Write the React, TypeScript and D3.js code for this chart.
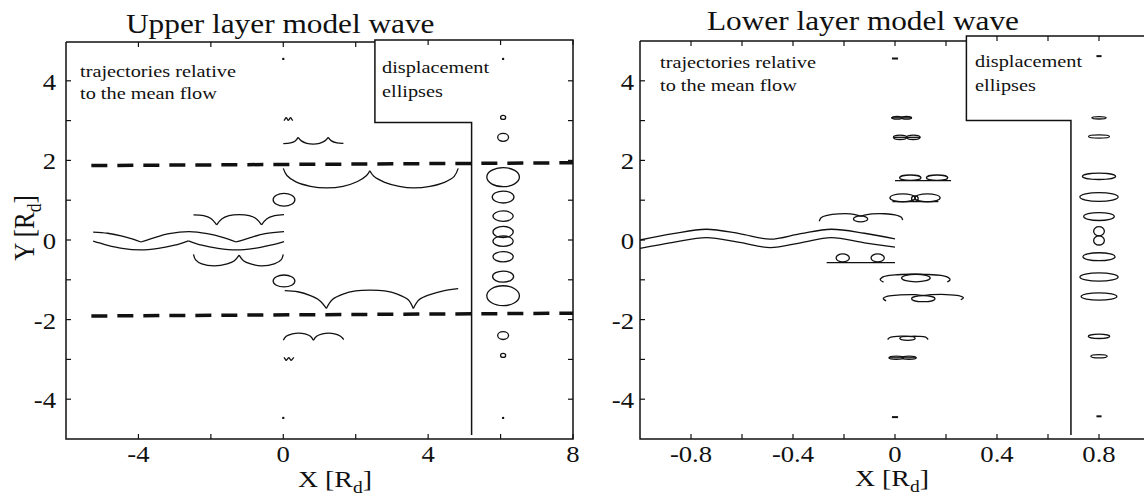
import React from "react";
import * as d3 from "d3";

type Pt = [number, number];

// ================= axes =================
const upperXTicks = [-4, -2, 0, 2, 4, 6, 8];
const upperXLabels = [-4, 0, 4, 8];
const lowerXTicks = [-0.8, -0.6, -0.4, -0.2, 0, 0.2, 0.4, 0.6, 0.8];
const lowerXLabels = [-0.8, -0.4, 0, 0.4, 0.8];
const yTicks = [-4, -3, -2, -1, 0, 1, 2, 3, 4];
const yLabels = [-4, -2, 0, 2, 4];

const titles = ["Upper layer model wave", "Lower layer model wave"];
const noteTraj = ["trajectories relative", "to the mean flow"];
const noteDisp = ["displacement", "ellipses"];

// ================= upper layer (X in Rd, Y in Rd) =================
// each trajectory: list of smooth segments joined at cusps
const upperWaveA: Pt[][] = [
  [[-5.25, 0.2], [-4.85, 0.17], [-4.45, 0.1], [-4.15, 0.02], [-3.93, -0.05]],
  [[-3.93, -0.05], [-3.6, 0.05], [-3.15, 0.16], [-2.6, 0.21], [-2.1, 0.16], [-1.65, 0.06], [-1.3, -0.05]],
  [[-1.3, -0.05], [-0.95, 0.05], [-0.5, 0.16], [0.02, 0.21]],
];
const upperWaveB: Pt[][] = [
  [[-5.25, -0.03], [-4.9, -0.12], [-4.45, -0.21], [-3.95, -0.25], [-3.45, -0.21], [-3.0, -0.13], [-2.62, -0.02]],
  [[-2.62, -0.02], [-2.25, -0.13], [-1.8, -0.21], [-1.3, -0.25], [-0.8, -0.21], [-0.35, -0.13], [0.02, -0.04]],
];
const upperArchP05: Pt[][] = [
  [[-2.48, 0.63], [-2.2, 0.61], [-2.0, 0.54], [-1.84, 0.38]],
  [[-1.84, 0.38], [-1.7, 0.53], [-1.5, 0.61], [-1.22, 0.64], [-0.94, 0.61], [-0.74, 0.53], [-0.6, 0.38]],
  [[-0.6, 0.38], [-0.46, 0.53], [-0.24, 0.61], [0.02, 0.64]],
];
const upperArchM05: Pt[][] = [
  [[-2.48, -0.36], [-2.42, -0.5], [-2.25, -0.6], [-1.9, -0.65], [-1.55, -0.6], [-1.35, -0.52], [-1.22, -0.38]],
  [[-1.22, -0.38], [-1.1, -0.52], [-0.9, -0.6], [-0.6, -0.65], [-0.25, -0.6], [-0.06, -0.5], [0.0, -0.36]],
];
const upperArchP16: Pt[][] = [
  [[0.0, 1.8], [0.1, 1.62], [0.35, 1.46], [0.75, 1.35], [1.19, 1.31], [1.65, 1.35], [2.05, 1.47], [2.3, 1.62], [2.39, 1.74]],
  [[2.39, 1.74], [2.5, 1.6], [2.8, 1.45], [3.2, 1.35], [3.6, 1.31], [4.05, 1.35], [4.45, 1.45], [4.72, 1.6], [4.83, 1.8]],
];
const upperArchM15: Pt[][] = [
  [[0.04, -1.27], [0.4, -1.3], [0.75, -1.4], [1.0, -1.52], [1.19, -1.72]],
  [[1.19, -1.72], [1.35, -1.5], [1.65, -1.36], [2.0, -1.28], [2.39, -1.26], [2.8, -1.28], [3.15, -1.36], [3.45, -1.5], [3.59, -1.72]],
  [[3.59, -1.72], [3.75, -1.5], [4.05, -1.37], [4.45, -1.27], [4.83, -1.22]],
];
const upperArchP25: Pt[][] = [
  [[0.0, 2.42], [0.2, 2.44], [0.33, 2.49], [0.41, 2.58]],
  [[0.41, 2.58], [0.5, 2.49], [0.65, 2.43], [0.83, 2.41], [1.0, 2.43], [1.15, 2.49], [1.24, 2.58]],
  [[1.24, 2.58], [1.33, 2.49], [1.48, 2.44], [1.66, 2.43]],
];
const upperArchM25: Pt[][] = [
  [[0.0, -2.52], [0.08, -2.42], [0.25, -2.36], [0.42, -2.34], [0.6, -2.36], [0.75, -2.42], [0.83, -2.52]],
  [[0.83, -2.52], [0.92, -2.42], [1.08, -2.36], [1.25, -2.34], [1.42, -2.36], [1.58, -2.42], [1.67, -2.5]],
];
const upperTinyP3: Pt[][] = [
  [[0.02, 3.0], [0.08, 3.08]], [[0.08, 3.08], [0.14, 3.0]], [[0.14, 3.0], [0.2, 3.08]], [[0.2, 3.08], [0.26, 3.0]],
];
const upperTinyM3: Pt[][] = [
  [[0.02, -2.95], [0.08, -3.03]], [[0.08, -3.03], [0.15, -2.95]], [[0.15, -2.95], [0.22, -3.03]], [[0.22, -3.03], [0.29, -2.95]],
];
const upperTrajectories: Pt[][][] = [
  upperWaveA, upperWaveB, upperArchP05, upperArchM05, upperArchP16,
  upperArchM15, upperArchP25, upperArchM25, upperTinyP3, upperTinyM3,
];
// closed orbits at X=0 : [cx, cy, rx, ry]
const upperOrbits: number[][] = [
  [0.02, 1.01, 0.3, 0.16],
  [0.02, -1.03, 0.3, 0.15],
];
const upperDots: Pt[] = [[0, 4.55], [0, -4.47], [6.07, 4.55], [6.07, -4.47]];
// displacement ellipses column: [Y, rx, ry]
const upperDispX = 6.07;
const upperDisp: number[][] = [
  [3.08, 0.07, 0.05],
  [2.58, 0.15, 0.1],
  [1.58, 0.45, 0.24],
  [1.08, 0.3, 0.15],
  [0.6, 0.28, 0.13],
  [0.2, 0.28, 0.14],
  [-0.03, 0.28, 0.13],
  [-0.42, 0.28, 0.13],
  [-0.92, 0.29, 0.14],
  [-1.4, 0.45, 0.25],
  [-2.4, 0.15, 0.1],
  [-2.9, 0.07, 0.05],
];
const upperDashed: Pt[][] = [
  [[-5.3, 1.87], [8, 1.94]],
  [[-5.3, -1.91], [8, -1.84]],
];

// ================= lower layer =================
const lowerWaveTop: Pt[] = [
  [-1.0, 0.0], [-0.87, 0.16], [-0.74, 0.27], [-0.61, 0.16], [-0.49, 0.02],
  [-0.37, 0.16], [-0.25, 0.27], [-0.12, 0.17], [0.0, 0.03],
];
const lowerWaveBot: Pt[] = [
  [-1.0, -0.21], [-0.87, -0.06], [-0.74, 0.06], [-0.61, -0.06], [-0.49, -0.19],
  [-0.37, -0.07], [-0.25, 0.06], [-0.12, -0.07], [0.0, -0.18],
];
const lowerArches: Pt[][] = [
  [[-0.297, 0.47], [-0.29, 0.56], [-0.265, 0.62], [-0.22, 0.655], [-0.175, 0.655], [-0.145, 0.62], [-0.135, 0.6],
   [-0.12, 0.625], [-0.09, 0.655], [-0.04, 0.66], [0.0, 0.63], [0.025, 0.57], [0.03, 0.5]],
  [[-0.045, -1.06], [-0.058, -1.0], [-0.045, -0.92], [0.0, -0.875], [0.06, -0.86], [0.12, -0.865],
   [0.18, -0.89], [0.208, -0.94], [0.216, -1.0], [0.205, -1.05]],
  [[-0.035, -1.53], [-0.046, -1.47], [-0.028, -1.41], [0.02, -1.38], [0.08, -1.375], [0.11, -1.39],
   [0.14, -1.375], [0.2, -1.37], [0.25, -1.4], [0.268, -1.45], [0.258, -1.5]],
  [[-0.029, -2.5], [-0.02, -2.45], [0.01, -2.42], [0.05, -2.42], [0.09, -2.42], [0.12, -2.44], [0.13, -2.5]],
];
// straight drift lines: [x1, x2, y]
const lowerLines: number[][] = [
  [-0.015, 0.065, 3.07],
  [-0.008, 0.1, 2.58],
  [0.0, 0.22, 1.49],
  [-0.01, 0.17, 0.965],
  [-0.268, 0.0, -0.57],
  [-0.025, 0.084, -2.96],
];
// loops: [cx, cy, rx, ry]
const lowerLoops: number[][] = [
  [0.008, 3.07, 0.02, 0.035],
  [0.045, 3.07, 0.02, 0.035],
  [0.02, 2.58, 0.026, 0.055],
  [0.072, 2.58, 0.026, 0.055],
  [0.06, 1.565, 0.042, 0.068],
  [0.165, 1.565, 0.042, 0.068],
  [0.03, 1.06, 0.05, 0.1],
  [0.127, 1.06, 0.05, 0.1],
  [0.078, 1.04, 0.013, 0.07],
  [-0.135, 0.53, 0.028, 0.075],
  [-0.205, -0.45, 0.026, 0.1],
  [-0.068, -0.45, 0.026, 0.1],
  [0.082, -0.955, 0.056, 0.095],
  [0.111, -1.475, 0.046, 0.075],
  [0.049, -2.47, 0.03, 0.05],
  [0.005, -2.96, 0.028, 0.04],
  [0.055, -2.96, 0.028, 0.04],
];
const lowerDashes: number[][] = [
  [-0.012, 0.012, 4.56],
  [-0.012, 0.012, -4.45],
  [0.79, 0.81, 4.62],
  [0.79, 0.81, -4.43],
];
const lowerDispX = 0.8;
const lowerDisp: number[][] = [
  [3.07, 0.028, 0.03],
  [2.6, 0.041, 0.04],
  [1.6, 0.065, 0.08],
  [1.08, 0.075, 0.11],
  [0.59, 0.06, 0.1],
  [0.22, 0.021, 0.115],
  [-0.01, 0.021, 0.115],
  [-0.42, 0.063, 0.1],
  [-0.93, 0.075, 0.105],
  [-1.42, 0.07, 0.092],
  [-2.42, 0.042, 0.055],
  [-2.92, 0.032, 0.042],
];

// ================= layout =================
const W = 1144, H = 500;
const FONT = "'Liberation Serif','Times New Roman',Times,serif";
const SX = 1.16;
const INK = "#111";

const xU = d3.scaleLinear().domain([-6, 8]).range([66, 573]);
const xL = d3.scaleLinear().domain([-1, 1]).range([640, 1150]);
const yS = d3.scaleLinear().domain([-5, 5]).range([439, 41]);

const smooth = (xs: d3.ScaleLinear<number, number>) =>
  d3.line<Pt>().x((d) => xs(d[0])).y((d) => yS(d[1])).curve(d3.curveCatmullRom.alpha(0.5));
const straight = (xs: d3.ScaleLinear<number, number>) =>
  d3.line<Pt>().x((d) => xs(d[0])).y((d) => yS(d[1]));

function Txt(props: { x: number; y: number; size: number; anchor?: string; children: React.ReactNode }) {
  const { x, y, size, anchor = "start", children } = props;
  return (
    <text transform={`translate(${x},${y}) scale(${SX},1)`} fontSize={size} fontFamily={FONT}
      textAnchor={anchor as any} fill={INK}>
      {children}
    </text>
  );
}

function RdTitle(props: { x: number; y: number; size: number; letter: string; rotate?: boolean }) {
  const { x, y, size, letter, rotate } = props;
  const tr = rotate
    ? `translate(${x},${y}) rotate(-90) scale(1,${SX})`
    : `translate(${x},${y}) scale(${SX},1)`;
  const sub = size * 0.7;
  return (
    <text transform={tr} fontSize={size} fontFamily={FONT} textAnchor="middle" fill={INK}>
      {letter} [R<tspan fontSize={sub} dy={size * 0.25}>d</tspan>
      <tspan dy={-size * 0.25}>]</tspan>
    </text>
  );
}

function ell(xs: d3.ScaleLinear<number, number>, cx: number, cy: number, rx: number, ry: number, key: string) {
  return (
    <ellipse key={key} cx={xs(cx)} cy={yS(cy)} rx={Math.abs(xs(cx + rx) - xs(cx))}
      ry={Math.abs(yS(cy + ry) - yS(cy))} fill="none" stroke={INK} strokeWidth={1.3} />
  );
}

export default function App() {
  const sU = smooth(xU);
  const sL = smooth(xL);
  const lU = straight(xU);
  const lL = straight(xL);

  const uBoxX1 = xU(2.53), uBoxX2 = xU(5.2), uBoxY = yS(2.95);
  const uTop = 42, uDispTop = 40, bottom = yS(-5);
  const lBoxX1 = xL(0.28), lBoxX2 = xL(0.69), lBoxY = yS(3);
  const lTop = 41, lDispTop = 36;
  const frame = { fill: "none", stroke: INK, strokeWidth: 1.5 } as const;
  const TL = 5;

  return (
    <div style={{ position: "absolute", left: 0, top: 0 }}>
      <svg width={W} height={H} style={{ display: "block", background: "#fff" }}>
        <rect width={W} height={H} fill="#fff" />

        <Txt x={126} y={33} size={27}>{titles[0]}</Txt>
        <Txt x={707} y={30} size={27}>{titles[1]}</Txt>

        {/* ================= UPPER PANEL ================= */}
        <path d={`M${xU.range()[0]},${uTop}V${bottom}H${xU(8)}V${uDispTop}H${uBoxX1}V${uBoxY}H${uBoxX2}V${yS(-4.9)}`} {...frame} />
        <path d={`M${xU.range()[0]},${uTop}H${uBoxX1}`} {...frame} />
        {upperXTicks.map((t) => {
          const top = xU(t) < uBoxX1 ? uTop : uDispTop;
          return (
            <g key={"uxt" + t} stroke={INK} strokeWidth={1.2}>
              <line x1={xU(t)} x2={xU(t)} y1={bottom} y2={bottom - TL} />
              <line x1={xU(t)} x2={xU(t)} y1={top} y2={top + TL} />
            </g>
          );
        })}
        {yTicks.map((t) => (
          <g key={"uyt" + t} stroke={INK} strokeWidth={1.2}>
            <line x1={xU(-6)} x2={xU(-6) + TL} y1={yS(t)} y2={yS(t)} />
            <line x1={xU(8)} x2={xU(8) - TL} y1={yS(t)} y2={yS(t)} />
          </g>
        ))}
        {upperXLabels.map((t) => (
          <Txt key={"uxl" + t} x={xU(t)} y={462} size={23} anchor="middle">{String(t)}</Txt>
        ))}
        {yLabels.map((t) => (
          <Txt key={"uyl" + t} x={56} y={yS(t) + 9} size={23} anchor="end">{String(t)}</Txt>
        ))}
        <RdTitle x={335} y={487} size={24} letter="X" />
        <RdTitle x={34} y={228} size={25} letter="Y" rotate />

        <Txt x={80} y={77} size={17.5}>{noteTraj[0]}</Txt>
        <Txt x={80} y={99} size={17.5}>{noteTraj[1]}</Txt>
        <Txt x={382} y={73} size={17.5}>{noteDisp[0]}</Txt>
        <Txt x={382} y={97} size={17.5}>{noteDisp[1]}</Txt>

        {upperDashed.map((d, i) => (
          <path key={"ud" + i} d={lU(d) || ""} stroke={INK} strokeWidth={3.5} strokeDasharray="16 10" fill="none" />
        ))}
        {upperTrajectories.map((tr, i) =>
          tr.map((seg, j) => (
            <path key={`ut${i}-${j}`} d={sU(seg) || ""} fill="none" stroke={INK} strokeWidth={1.3} />
          ))
        )}
        {upperOrbits.map((e, i) => ell(xU, e[0], e[1], e[2], e[3], "uo" + i))}
        {upperDisp.map((e, i) => ell(xU, upperDispX, e[0], e[1], e[2], "ue" + i))}
        {upperDots.map((p, i) => (
          <circle key={"udot" + i} cx={xU(p[0])} cy={yS(p[1])} r={1.2} fill={INK} />
        ))}

        {/* ================= LOWER PANEL ================= */}
        <path d={`M${xL(-1)},${lTop}V${bottom}H${W + 10}`} {...frame} />
        <path d={`M${xL(-1)},${lTop}H${lBoxX1}`} {...frame} />
        <path d={`M${W + 10},${lDispTop}H${lBoxX1}V${lBoxY}H${lBoxX2}V${yS(-4.9)}`} {...frame} />
        {lowerXTicks.map((t) => {
          const top = xL(t) < lBoxX1 ? lTop : lDispTop;
          return (
            <g key={"lxt" + t} stroke={INK} strokeWidth={1.2}>
              <line x1={xL(t)} x2={xL(t)} y1={bottom} y2={bottom - TL} />
              <line x1={xL(t)} x2={xL(t)} y1={top} y2={top + TL} />
            </g>
          );
        })}
        {yTicks.map((t) => (
          <line key={"lyt" + t} x1={xL(-1)} x2={xL(-1) + TL} y1={yS(t)} y2={yS(t)} stroke={INK} strokeWidth={1.2} />
        ))}
        {lowerXLabels.map((t) => (
          <Txt key={"lxl" + t} x={xL(t)} y={462} size={23} anchor="middle">{String(t)}</Txt>
        ))}
        {yLabels.map((t) => (
          <Txt key={"lyl" + t} x={634} y={yS(t) + 9} size={23} anchor="end">{String(t)}</Txt>
        ))}
        <RdTitle x={892} y={486} size={24} letter="X" />

        <Txt x={660} y={68} size={17.5}>{noteTraj[0]}</Txt>
        <Txt x={660} y={91} size={17.5}>{noteTraj[1]}</Txt>
        <Txt x={975} y={67} size={17.5}>{noteDisp[0]}</Txt>
        <Txt x={975} y={91} size={17.5}>{noteDisp[1]}</Txt>

        <path d={sL(lowerWaveTop) || ""} fill="none" stroke={INK} strokeWidth={1.3} />
        <path d={sL(lowerWaveBot) || ""} fill="none" stroke={INK} strokeWidth={1.3} />
        {lowerArches.map((a, i) => (
          <path key={"la" + i} d={sL(a) || ""} fill="none" stroke={INK} strokeWidth={1.3} />
        ))}
        {lowerLines.map((l, i) => (
          <path key={"ll" + i} d={lL([[l[0], l[2]], [l[1], l[2]]]) || ""} fill="none" stroke={INK} strokeWidth={1.3} />
        ))}
        {lowerLoops.map((e, i) => ell(xL, e[0], e[1], e[2], e[3], "lo" + i))}
        {lowerDisp.map((e, i) => ell(xL, lowerDispX, e[0], e[1], e[2], "le" + i))}
        {lowerDashes.map((l, i) => (
          <path key={"lds" + i} d={lL([[l[0], l[2]], [l[1], l[2]]]) || ""} fill="none" stroke={INK} strokeWidth={2} />
        ))}
      </svg>
    </div>
  );
}
